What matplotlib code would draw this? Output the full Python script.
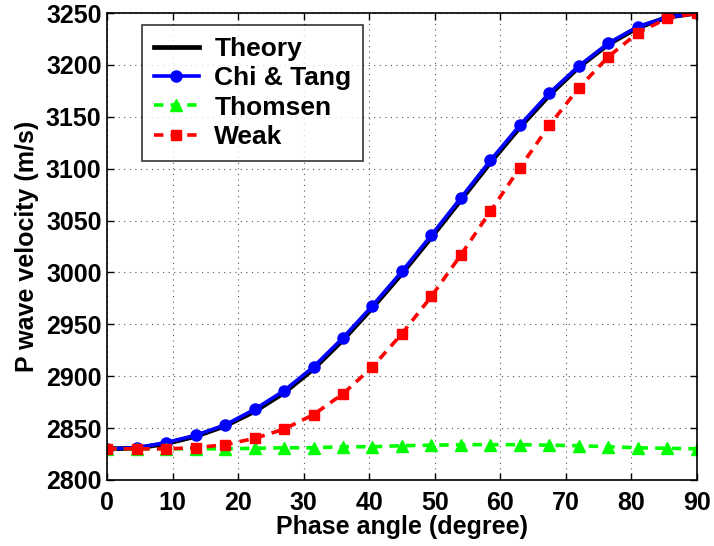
import matplotlib
matplotlib.use('Agg')
import matplotlib.pyplot as plt

plt.rcParams['font.family'] = ['Liberation Sans', 'DejaVu Sans']
plt.rcParams['font.weight'] = 'bold'

# phase angle samples (degree)
angle = [0, 4.5, 9, 13.5, 18, 22.5, 27, 31.5, 36, 40.5, 45,
         49.5, 54, 58.5, 63, 67.5, 72, 76.5, 81, 85.5, 90]

# P wave velocities (m/s)
theory = [2830, 2830.5, 2835, 2842, 2852, 2866, 2884, 2907, 2935, 2966, 2999,
          3034, 3070, 3106, 3140, 3171, 3198, 3220, 3236, 3246, 3250]
chi_tang = [2830, 2831, 2836, 2843, 2853, 2868, 2886, 2909, 2937, 2968, 3001,
            3036, 3072, 3108, 3142, 3173, 3199, 3221, 3237, 3246, 3250]
thomsen = [2830, 2830, 2830, 2830, 2830, 2830.5, 2831, 2831, 2832, 2832, 2833,
           2833.5, 2834, 2834, 2834, 2833.5, 2833, 2832, 2831, 2830.5, 2830]
weak = [2830, 2830, 2830, 2831, 2834, 2840, 2849, 2863, 2883, 2909, 2941,
        2977, 3017, 3059, 3101, 3142, 3178, 3208, 3231, 3245, 3250]

fs = 18

fig = plt.figure(figsize=(7.14, 5.46), dpi=100)
ax = fig.add_axes([0.150, 0.121, 0.826, 0.855])

ax.plot(angle, theory, '-', color='black', lw=3.4, label='Theory')
ax.plot(angle, chi_tang, '-o', color='#0000ff', lw=2.6, ms=8, label='Chi & Tang')
ax.plot(angle, thomsen, '--^', color='#00ff00', lw=2.6, ms=9, dashes=(2.6, 2), label='Thomsen')
ax.plot(angle, weak, '--s', color='#ff0000', lw=2.6, ms=7, dashes=(2.6, 2), label='Weak')

ax.set_xlim(0, 90)
ax.set_ylim(2800, 3250)
ax.set_xticks(range(0, 91, 10))
ax.set_yticks(range(2800, 3251, 50))
ax.grid(True, linestyle=(0, (1, 4)), color='#555555', lw=0.8)
ax.tick_params(direction='in', top=True, right=True, length=5, width=1, labelsize=fs)
ax.tick_params(axis='x', pad=8)
ax.tick_params(axis='y', pad=4)
for s in ax.spines.values():
    s.set_linewidth(1.2)

ax.set_xlabel('Phase angle (degree)', fontsize=fs, fontweight='bold', labelpad=0)
ax.set_ylabel('P wave velocity (m/s)', fontsize=fs, fontweight='bold', labelpad=5)

leg = ax.legend(loc='upper left', bbox_to_anchor=(0.059, 0.974), borderaxespad=0,
                fontsize=19, frameon=True, fancybox=False, edgecolor='black',
                handlelength=1.7, borderpad=0.45, labelspacing=0.2, handletextpad=0.6)
leg.get_frame().set_linewidth(1.2)

fig.savefig('out.png', dpi=100)
